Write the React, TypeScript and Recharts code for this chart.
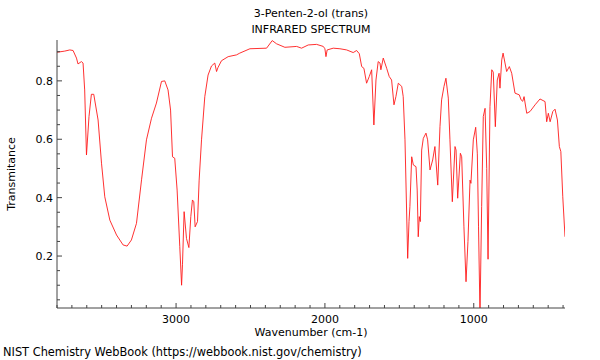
import React from 'react';
import { LineChart, Line, XAxis, YAxis } from 'recharts';

const title = '3-Penten-2-ol (trans)';
const subtitle = 'INFRARED SPECTRUM';
const xLabel = 'Wavenumber (cm-1)';
const yLabel = 'Transmitance';
const footer = 'NIST Chemistry WebBook (https://webbook.nist.gov/chemistry)';

const wavenumbers = [
  3800, 3748, 3714, 3692, 3669, 3659, 3636, 3625, 3614, 3602, 3585, 3569, 3553, 3524, 3501, 3479,
  3445, 3400, 3356, 3329, 3300, 3266, 3232, 3199, 3165, 3132, 3098, 3076, 3054, 3037, 3024, 3009,
  2993, 2975, 2963, 2957, 2946, 2930, 2914, 2901, 2890, 2881, 2872, 2856, 2845, 2829, 2807, 2785,
  2762, 2740, 2728, 2719, 2695, 2650, 2594, 2572, 2504, 2392, 2354, 2325, 2269, 2190, 2157, 2112,
  2056, 2011, 2000, 1993, 1985, 1944, 1899, 1854, 1810, 1787, 1769, 1753, 1738, 1720, 1702, 1686,
  1671, 1657, 1642, 1630, 1624, 1608, 1585, 1568, 1552, 1536, 1523, 1507, 1484, 1474, 1462, 1444,
  1435, 1429, 1417, 1406, 1388, 1380, 1373, 1366, 1359, 1350, 1339, 1321, 1310, 1294, 1276, 1261,
  1242, 1227, 1216, 1200, 1187, 1171, 1160, 1144, 1126, 1119, 1108, 1090, 1081, 1066, 1052, 1039,
  1025, 1019, 1003, 987, 976, 968, 958, 947, 936, 924, 913, 904, 891, 879, 869, 855,
  842, 830, 824, 812, 803, 779, 761, 745, 723, 694, 682, 671, 662, 644, 622, 588,
  555, 521, 510, 499, 487, 469, 454, 438, 425, 415, 402, 387,
];

const transmittance = [
  0.898, 0.902, 0.906, 0.904, 0.878, 0.858, 0.866, 0.861, 0.769, 0.546, 0.678, 0.754, 0.754, 0.666, 0.518, 0.403,
  0.323, 0.272, 0.238, 0.234, 0.255, 0.312, 0.461, 0.598, 0.672, 0.724, 0.798, 0.8, 0.769, 0.7, 0.54, 0.535,
  0.426, 0.232, 0.1, 0.17, 0.352, 0.26, 0.229, 0.335, 0.392, 0.386, 0.3, 0.318, 0.46, 0.598, 0.746, 0.82,
  0.851, 0.861, 0.832, 0.845, 0.869, 0.883, 0.889, 0.895, 0.91, 0.912, 0.938, 0.927, 0.915, 0.918, 0.912, 0.923,
  0.925, 0.918, 0.91, 0.883, 0.906, 0.912, 0.91, 0.906, 0.897, 0.904, 0.893, 0.849, 0.843, 0.792, 0.815, 0.838,
  0.649, 0.803, 0.866, 0.861, 0.838, 0.878, 0.843, 0.815, 0.803, 0.718, 0.746, 0.792, 0.781, 0.746, 0.598, 0.192,
  0.318, 0.369, 0.54, 0.512, 0.506, 0.426, 0.266, 0.335, 0.318, 0.563, 0.603, 0.621, 0.598, 0.495, 0.529, 0.575,
  0.443, 0.643, 0.735, 0.781, 0.809, 0.741, 0.598, 0.386, 0.575, 0.563, 0.398, 0.552, 0.54, 0.3, 0.112, 0.25,
  0.46, 0.449, 0.598, 0.641, 0.55, 0.3, 0.0, 0.369, 0.678, 0.706, 0.5, 0.189, 0.712, 0.838, 0.83, 0.643,
  0.803, 0.826, 0.775, 0.872, 0.895, 0.832, 0.849, 0.826, 0.758, 0.752, 0.735, 0.73, 0.746, 0.689, 0.695, 0.718,
  0.738, 0.729, 0.66, 0.689, 0.66, 0.695, 0.703, 0.666, 0.575, 0.558, 0.403, 0.266,
];

const xTicks = [
  400, 500, 600, 700, 800, 900, 1000, 1100, 1200, 1300, 1400, 1500, 1600, 1700, 1800, 1900, 2000,
  2100, 2200, 2300, 2400, 2500, 2600, 2700, 2800, 2900, 3000, 3100, 3200, 3300, 3400, 3500, 3600,
  3700, 3800,
];
const xLabeled = [1000, 2000, 3000];

const yTicks = [
  0.05, 0.1, 0.15, 0.2, 0.25, 0.3, 0.35, 0.4, 0.45, 0.5, 0.55, 0.6, 0.65, 0.7, 0.75, 0.8, 0.85, 0.9,
];
const yLabeled = [0.2, 0.4, 0.6, 0.8];

const xDomain = [387, 3800];
const yDomain = [0.022, 0.94];

const data = wavenumbers.map((w, i) => ({ wn: w, t: transmittance[i] }));

const FONT = 'DejaVu Sans';
const AXIS = '#444';

const XTick = (props: any) => {
  const { x, y, payload } = props;
  const v = payload.value;
  const major = xLabeled.includes(v);
  return (
    <g>
      <line x1={x} x2={x} y1={y} y2={y - (major ? 5 : 3)} stroke={AXIS} strokeWidth={1} />
      {major && (
        <text x={x} y={y + 14.5} textAnchor="middle" fontFamily={FONT} fontSize={11} fill="#000">
          {v}
        </text>
      )}
    </g>
  );
};

const YTick = (props: any) => {
  const { x, y, payload } = props;
  const v = payload.value;
  const major = yLabeled.some((m) => Math.abs(m - v) < 1e-6);
  return (
    <g>
      <line x1={x} x2={x + (major ? 5 : 3)} y1={y} y2={y} stroke={AXIS} strokeWidth={1} />
      {major && (
        <text x={x - 4} y={y + 4} textAnchor="end" fontFamily={FONT} fontSize={11} fill="#000">
          {v.toFixed(1)}
        </text>
      )}
    </g>
  );
};

export default function App() {
  return (
    <div style={{ position: 'absolute', left: 0, top: 0, width: 600, height: 360, background: '#fff' }}>
      <LineChart width={600} height={360} data={data} margin={{ top: 40, right: 35, bottom: 0, left: 0 }}>
        <XAxis
          dataKey="wn"
          type="number"
          reversed
          domain={xDomain}
          allowDataOverflow
          ticks={xTicks}
          interval={0}
          tickSize={0}
          tickMargin={0}
          tick={<XTick />}
          height={52}
          axisLine={{ stroke: AXIS, strokeWidth: 1 }}
        />
        <XAxis
          xAxisId="top"
          orientation="top"
          type="number"
          domain={xDomain}
          height={0}
          tick={false}
          tickLine={false}
          axisLine={{ stroke: '#9a9a9a', strokeWidth: 2 }}
        />
        <YAxis
          type="number"
          domain={yDomain}
          allowDataOverflow
          ticks={yTicks}
          interval={0}
          tickSize={0}
          tickMargin={0}
          tick={<YTick />}
          width={57}
          axisLine={{ stroke: AXIS, strokeWidth: 1 }}
        />
        <YAxis
          yAxisId="right"
          orientation="right"
          type="number"
          domain={yDomain}
          width={0}
          tick={false}
          tickLine={false}
          axisLine={{ stroke: '#555', strokeWidth: 1.5 }}
        />
        <Line
          dataKey="t"
          type="linear"
          stroke="#ff1a1a"
          strokeWidth={0.9}
          dot={false}
          isAnimationActive={false}
        />
        <text x={311} y={16.5} textAnchor="middle" fontFamily={FONT} fontSize={11} fill="#000">
          {title}
        </text>
        <text x={311} y={33} textAnchor="middle" fontFamily={FONT} fontSize={11} fill="#000">
          {subtitle}
        </text>
        <text x={311} y={336} textAnchor="middle" fontFamily={FONT} fontSize={11} fill="#000">
          {xLabel}
        </text>
        <text
          x={15}
          y={174}
          textAnchor="middle"
          fontFamily={FONT}
          fontSize={11}
          fill="#000"
          transform="rotate(-90, 15, 174)"
        >
          {yLabel}
        </text>
        <text x={3} y={356} textAnchor="start" fontFamily={FONT} fontSize={11.4} fill="#000">
          {footer}
        </text>
      </LineChart>
    </div>
  );
}
